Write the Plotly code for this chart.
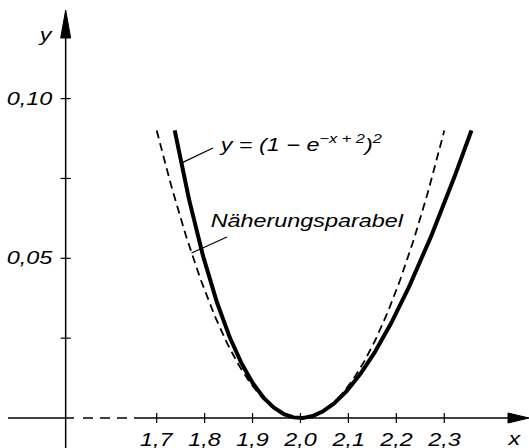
import numpy as np
import plotly.graph_objects as go

# Curve: y = (1 - e^(-x+2))^2 and its approximating parabola y = (x-2)^2
x_min_exact, x_max_exact = 1.7376, 2.3567
x_min_parab, x_max_parab = 1.70, 2.30

x_exact = np.linspace(x_min_exact, x_max_exact, 300)
y_exact = (1 - np.exp(-x_exact + 2)) ** 2
x_parab = np.linspace(x_min_parab, x_max_parab, 300)
y_parab = (x_parab - 2) ** 2

# Axis ticks and labels (German decimal comma)
x_ticks = [1.7, 1.8, 1.9, 2.0, 2.1, 2.2, 2.3]
x_tick_labels = ["1,7", "1,8", "1,9", "2,0", "2,1", "2,2", "2,3"]
y_ticks = [0.025, 0.05, 0.075, 0.10]
y_label_ticks = [0.05, 0.10]
y_tick_labels = ["0,05", "0,10"]

# View window and decoration geometry (data units)
X_RANGE = [1.3731, 2.4768]
Y_RANGE = [-0.00939, 0.13087]
PX_X = (X_RANGE[1] - X_RANGE[0]) / 529.0
PX_Y = (Y_RANGE[1] - Y_RANGE[0]) / 448.0
Y_AXIS_X = 1.5101

BLACK = "#000000"
FONT = dict(family="Liberation Sans, Arial, sans-serif", size=18, color=BLACK, style="italic")

fig = go.Figure()

fig.add_trace(go.Scatter(x=x_parab, y=y_parab, mode="lines",
                         line=dict(color=BLACK, width=1.8, dash="8px,5px"),
                         hoverinfo="skip", showlegend=False))
fig.add_trace(go.Scatter(x=x_exact, y=y_exact, mode="lines",
                         line=dict(color=BLACK, width=4),
                         hoverinfo="skip", showlegend=False))

shapes = []
axis_line = dict(color=BLACK, width=1.5)

# y axis with arrow head
y_arrow_base = Y_RANGE[0] + (448 - 38) * PX_Y
y_arrow_tip = Y_RANGE[0] + (448 - 10) * PX_Y
shapes.append(dict(type="line", xref="x", yref="y", x0=Y_AXIS_X, x1=Y_AXIS_X,
                   y0=Y_RANGE[0], y1=y_arrow_base, line=axis_line))
hw = 5 * PX_X
shapes.append(dict(type="path", xref="x", yref="y",
                   path=f"M {Y_AXIS_X - hw} {y_arrow_base} L {Y_AXIS_X + hw} {y_arrow_base} L {Y_AXIS_X} {y_arrow_tip} Z",
                   fillcolor=BLACK, line=dict(color=BLACK, width=1)))

# x axis: solid stub, dashed break, solid part with arrow head
x_start = X_RANGE[0] + 8 * PX_X
x_break0 = X_RANGE[0] + 74 * PX_X
x_break1 = X_RANGE[0] + 141 * PX_X
x_arrow_base = X_RANGE[0] + 508 * PX_X
x_arrow_tip = X_RANGE[0] + 529 * PX_X
shapes.append(dict(type="line", xref="x", yref="y", x0=x_start, x1=x_break0, y0=0, y1=0, line=axis_line))
shapes.append(dict(type="line", xref="x", yref="y", x0=x_break0 + 9 * PX_X, x1=x_break1,
                   y0=0, y1=0, line=dict(color=BLACK, width=1.5, dash="10px,7px")))
shapes.append(dict(type="line", xref="x", yref="y", x0=x_break1, x1=x_arrow_base, y0=0, y1=0, line=axis_line))
hh = 5 * PX_Y
shapes.append(dict(type="path", xref="x", yref="y",
                   path=f"M {x_arrow_base} {-hh} L {x_arrow_base} {hh} L {x_arrow_tip} 0 Z",
                   fillcolor=BLACK, line=dict(color=BLACK, width=1)))

# tick marks
for xt in x_ticks:
    shapes.append(dict(type="line", xref="x", yref="y", x0=xt, x1=xt,
                       y0=-5 * PX_Y, y1=5 * PX_Y, line=dict(color=BLACK, width=1.2)))
for yt in y_ticks:
    shapes.append(dict(type="line", xref="x", yref="y", x0=Y_AXIS_X - 5 * PX_X, x1=Y_AXIS_X + 5 * PX_X,
                       y0=yt, y1=yt, line=dict(color=BLACK, width=1.2)))

# leader lines for the curve labels
exact_label_pt_x = 1.7512
exact_label_pt_y = (1 - np.exp(-exact_label_pt_x + 2)) ** 2
shapes.append(dict(type="line", xref="x", yref="y",
                   x0=X_RANGE[0] + 213 * PX_X, y0=Y_RANGE[0] + (448 - 148) * PX_Y,
                   x1=exact_label_pt_x, y1=exact_label_pt_y, line=dict(color=BLACK, width=1.2)))
parab_label_pt_x = 1.7727
parab_label_pt_y = (parab_label_pt_x - 2) ** 2
shapes.append(dict(type="line", xref="x", yref="y",
                   x0=X_RANGE[0] + 227 * PX_X, y0=Y_RANGE[0] + (448 - 237) * PX_Y,
                   x1=parab_label_pt_x, y1=parab_label_pt_y, line=dict(color=BLACK, width=1.2)))

annotations = []


def label(text, px, py):
    annotations.append(dict(text=text, x=X_RANGE[0] + px * PX_X, y=Y_RANGE[0] + (448 - py) * PX_Y,
                            xref="x", yref="y", showarrow=False, xanchor="center", yanchor="middle",
                            font=FONT))


for xt, lab in zip(x_ticks, x_tick_labels):
    annotations.append(dict(text=lab, x=xt, y=Y_RANGE[0] + (448 - 440) * PX_Y, xref="x", yref="y",
                            showarrow=False, xanchor="center", yanchor="middle", font=FONT))
for yt, lab in zip(y_label_ticks, y_tick_labels):
    annotations.append(dict(text=lab, x=X_RANGE[0] + 29.5 * PX_X, y=yt, xref="x", yref="y",
                            showarrow=False, xanchor="center", yanchor="middle", font=FONT))

label("y", 45, 35)
label("x", 514, 439)
label("y = (1 \u2212 e<sup>\u2212x + 2</sup>)<sup>2</sup>", 300, 143)
label("Näherungsparabel", 307.5, 221)

fig.update_layout(
    width=529, height=448,
    margin=dict(l=0, r=0, t=0, b=0),
    paper_bgcolor="white", plot_bgcolor="white",
    xaxis=dict(range=X_RANGE, visible=False, fixedrange=True),
    yaxis=dict(range=Y_RANGE, visible=False, fixedrange=True),
    shapes=shapes, annotations=annotations,
)

# widen the lettering horizontally
stretch_js = """
var gd = document.getElementById('{plot_id}');
function widenText() {
  gd.querySelectorAll('text.annotation-text').forEach(function (t) {
    t.style.transformBox = 'fill-box';
    t.style.transformOrigin = 'center';
    t.style.transform = 'scaleX(1.3)';
  });
}
widenText();
gd.on('plotly_afterplot', widenText);
"""

fig.write_html("out.html", post_script=stretch_js, config={"displayModeBar": False})
